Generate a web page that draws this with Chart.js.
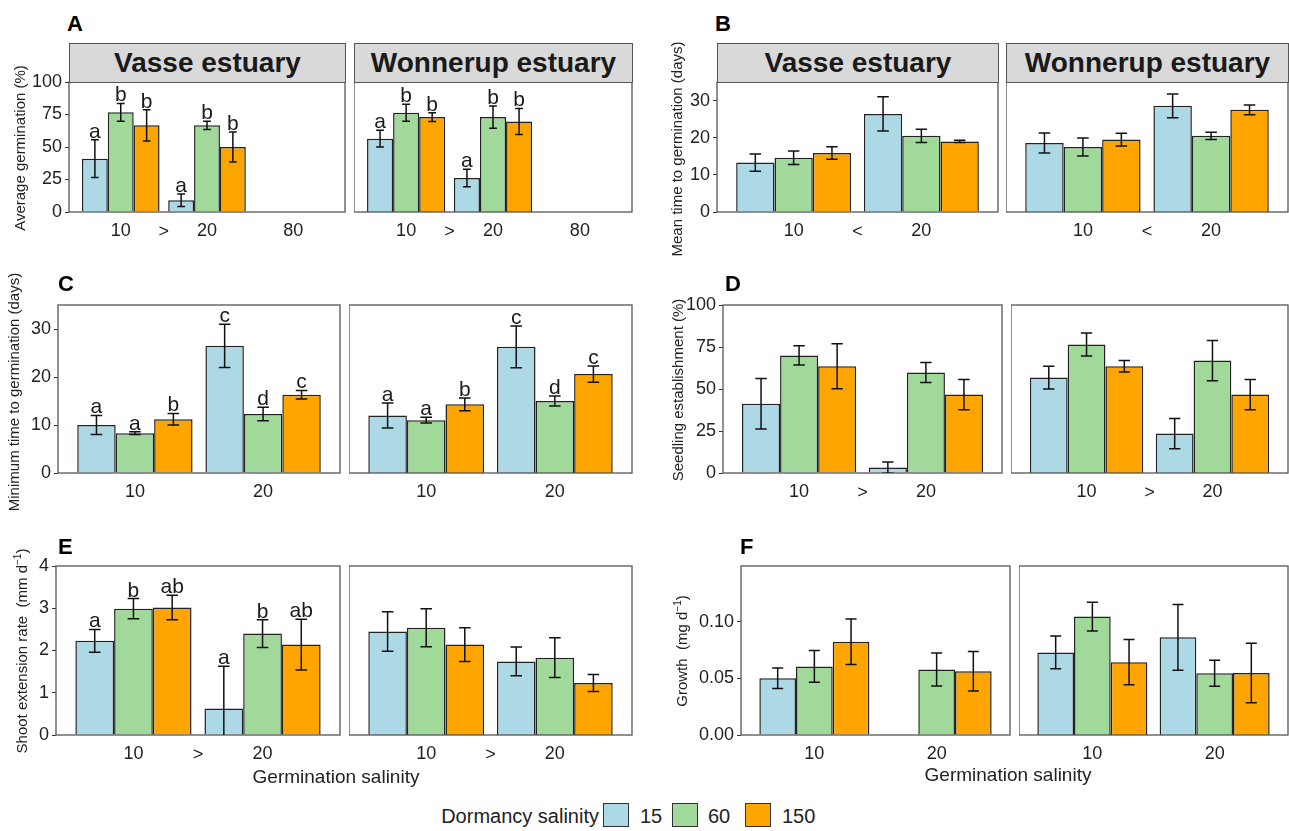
<!DOCTYPE html>
<html>
<head>
<meta charset="utf-8">
<script src="https://cdn.jsdelivr.net/npm/chart.js@4.4.1/dist/chart.umd.min.js"></script>
<style>
  body { margin: 0; background: #fff; width: 1289px; height: 831px; position: relative; overflow: hidden;
         font-family: "Liberation Sans", Arial, sans-serif; color: #1a1a1a; }
  canvas { position: absolute; }
  .strip { position: absolute; box-sizing: border-box; background: #d9d9d9; border: 1.3px solid #555;
           font-weight: bold; font-size: 28px; text-align: center; line-height: 37px; top: 43px; height: 40px; color: #1a1a1a; }
  .tag { position: absolute; font-weight: bold; font-size: 22px; line-height: 22px; color: #000; }
  .ytitle { position: absolute; font-size: 15px; white-space: nowrap; color: #222;
            transform: translate(-50%, -50%) rotate(-90deg); }
  .xtitle { position: absolute; font-size: 19px; white-space: nowrap; color: #222; transform: translate(-50%, -50%); }
  .lg { position: absolute; font-size: 20px; line-height: 20px; color: #222; white-space: nowrap; }
  .key { position: absolute; width: 26px; height: 24px; box-sizing: border-box; border: 1.5px solid #333; }
</style>
</head>
<body>
<script>
// dormancy salinity groups and germination salinity categories
const doses = ['15', '60', '150'];
const fills = ['#add8e6', '#a1d99b', '#ffa500'];
const salinityA = ['10', '20', '80'];
const salinity = ['10', '20'];

// A - average germination (%)   [dose][germination salinity]
const aTicks = [0, 25, 50, 75, 100];
const aVasseMean = [[41, 9], [76.7, 66.7], [66.7, 50]];
const aVasseSe = [[14.5, 4.8], [6.8, 3.2], [12, 11.5]];
const aVasseLetters = [['a', 'a'], ['b', 'b'], ['b', 'b']];
const aWonMean = [[56.4, 26.2], [76.4, 73], [73, 69.7]];
const aWonSe = [[6.4, 6.7], [6.5, 8.5], [3.3, 10]];
const aWonLetters = [['a', 'a'], ['b', 'b'], ['b', 'b']];

// B - mean time to germination (days)
const bTicks = [0, 10, 20, 30];
const bVasseMean = [[13.3, 26.4], [14.6, 20.5], [15.9, 19.0]];
const bVasseSe = [[2.3, 4.6], [1.8, 1.8], [1.7, 0.3]];
const bWonMean = [[18.6, 28.6], [17.5, 20.5], [19.5, 27.5]];
const bWonSe = [[2.7, 3.2], [2.4, 1.0], [1.7, 1.3]];

// C - minimum time to germination (days)
const cTicks = [0, 10, 20, 30];
const cVasseMean = [[10.0, 26.5], [8.3, 12.3], [11.2, 16.3]];
const cVasseSe = [[2, 4.5], [0.3, 1.4], [1.2, 0.9]];
const cVasseLetters = [['a', 'c'], ['a', 'd'], ['b', 'c']];
const cWonMean = [[12.0, 26.3], [11.0, 15.0], [14.3, 20.6]];
const cWonSe = [[2.6, 4.35], [0.6, 1.05], [1.35, 1.7]];
const cWonLetters = [['a', 'c'], ['a', 'd'], ['b', 'c']];

// D - seedling establishment (%)
const dTicks = [0, 25, 50, 75, 100];
const dVasseMean = [[41.2, 3.2], [70, 59.8], [63.5, 46.7]];
const dVasseSe = [[15, 3.3], [5.7, 6], [13.4, 9]];
const dWonMean = [[56.8, 23.5], [76.5, 66.9], [63.5, 46.7]];
const dWonSe = [[6.8, 9], [6.9, 12], [3.4, 9]];

// E - shoot extension rate (mm d-1)
const eTicks = [0, 1, 2, 3, 4];
const eVasseMean = [[2.23, 0.63], [2.99, 2.40], [3.02, 2.14]];
const eVasseSe = [[0.27, 1.0], [0.24, 0.33], [0.29, 0.6]];
const eVasseLetters = [['a', 'a'], ['b', 'b'], ['ab', 'ab']];
const eWonMean = [[2.45, 1.74], [2.54, 1.83], [2.14, 1.23]];
const eWonSe = [[0.47, 0.34], [0.45, 0.47], [0.4, 0.2]];

// F - growth (mg d-1)
const fTicks = [0, 0.05, 0.10];
const fVasseMean = [[0.050, null], [0.0604, 0.0577], [0.0822, 0.0562]];
const fVasseSe = [[0.009, null], [0.014, 0.0145], [0.02, 0.0175]];
const fWonMean = [[0.0728, 0.0861], [0.1044, 0.0544], [0.0642, 0.0547]];
const fWonSe = [[0.0144, 0.029], [0.0127, 0.0115], [0.02, 0.0263]];

Chart.defaults.font.family = '"Liberation Sans", Arial, sans-serif';

// facet layout: box = [left, top, right, bottom] of the panel area
const facets = [
  { cats: salinityA, mean: aVasseMean, se: aVasseSe, letters: aVasseLetters, ticks: aTicks, max: 100, sign: '>', box: [69, 82, 345, 212], yw: 45 },
  { cats: salinityA, mean: aWonMean, se: aWonSe, letters: aWonLetters, ticks: aTicks, max: 100, sign: '>', box: [354, 82, 632, 212] },
  { cats: salinity, mean: bVasseMean, se: bVasseSe, ticks: bTicks, max: 35, sign: '<', box: [717, 82, 998, 212], yw: 45 },
  { cats: salinity, mean: bWonMean, se: bWonSe, ticks: bTicks, max: 35, sign: '<', box: [1006, 82, 1288, 212] },
  { cats: salinity, mean: cVasseMean, se: cVasseSe, letters: cVasseLetters, ticks: cTicks, max: 35, box: [58, 305, 340, 473], yw: 45 },
  { cats: salinity, mean: cWonMean, se: cWonSe, letters: cWonLetters, ticks: cTicks, max: 35, box: [349, 305, 632, 473] },
  { cats: salinity, mean: dVasseMean, se: dVasseSe, ticks: dTicks, max: 100, sign: '>', box: [723, 305, 1002, 473], yw: 45 },
  { cats: salinity, mean: dWonMean, se: dWonSe, ticks: dTicks, max: 100, sign: '>', box: [1011, 305, 1288, 473] },
  { cats: salinity, mean: eVasseMean, se: eVasseSe, letters: eVasseLetters, ticks: eTicks, max: 4, sign: '>', box: [56, 566, 340, 735], yw: 40 },
  { cats: salinity, mean: eWonMean, se: eWonSe, ticks: eTicks, max: 4, sign: '>', box: [349, 566, 632, 735] },
  { cats: salinity, mean: fVasseMean, se: fVasseSe, ticks: fTicks, max: 0.149, dec: 2, box: [741, 566, 1010, 735], yw: 52 },
  { cats: salinity, mean: fWonMean, se: fWonSe, ticks: fTicks, max: 0.149, dec: 2, box: [1019, 566, 1288, 735] }
];

const TOP = 16, RIGHT = 2, XH = 36;

const facetPlugin = {
  id: 'facet',
  afterDatasetsDraw(chart, args, opts) {
    const { ctx, chartArea: a, scales: { x, y } } = chart;
    ctx.save();
    // panel border
    ctx.strokeStyle = '#555';
    ctx.lineWidth = 1.3;
    ctx.strokeRect(a.left, a.top, a.right - a.left, a.bottom - a.top);

    // error bars, clipped to panel bottom
    ctx.save();
    ctx.beginPath();
    ctx.rect(a.left, 0, a.right - a.left, a.bottom);
    ctx.clip();
    ctx.strokeStyle = '#111';
    ctx.lineWidth = 1.5;
    chart.data.datasets.forEach((ds, i) => {
      chart.getDatasetMeta(i).data.forEach((bar, j) => {
        const p = ds.data[j];
        const top = y.getPixelForValue(p.y + p.se);
        const bot = y.getPixelForValue(p.y - p.se);
        const cap = bar.width * 0.15;
        ctx.beginPath();
        ctx.moveTo(bar.x, top); ctx.lineTo(bar.x, bot);
        ctx.moveTo(bar.x - cap, top); ctx.lineTo(bar.x + cap, top);
        ctx.moveTo(bar.x - cap, bot); ctx.lineTo(bar.x + cap, bot);
        ctx.stroke();
      });
    });
    ctx.restore();

    // significance letters
    ctx.fillStyle = '#1a1a1a';
    ctx.font = '21px "Liberation Sans", Arial, sans-serif';
    ctx.textAlign = 'center';
    ctx.textBaseline = 'alphabetic';
    chart.data.datasets.forEach((ds, i) => {
      chart.getDatasetMeta(i).data.forEach((bar, j) => {
        const p = ds.data[j];
        if (p.letter) ctx.fillText(p.letter, bar.x, y.getPixelForValue(p.y + p.se) - 2);
      });
    });

    // comparison sign between germination salinities
    if (opts.sign) {
      ctx.fillStyle = '#222';
      ctx.font = '18px "Liberation Sans", Arial, sans-serif';
      ctx.textBaseline = 'middle';
      ctx.fillText(opts.sign, x.getPixelForValue(1.5), x.top + 20);
    }
    ctx.restore();
  }
};

facets.forEach(f => {
  const yw = f.yw || 0;
  const [x0, y0, x1, y1] = f.box;
  const cv = document.createElement('canvas');
  cv.width = x1 - x0 + yw + RIGHT;
  cv.height = y1 - y0 + TOP + XH;
  cv.style.left = (x0 - yw) + 'px';
  cv.style.top = (y0 - TOP) + 'px';
  document.body.appendChild(cv);

  const datasets = doses.map((d, s) => ({
    label: d,
    data: f.cats.map((c, k) => ({
      x: k + 1,
      y: f.mean[s][k],
      se: f.se[s][k],
      letter: f.letters ? f.letters[s][k] : ''
    })).filter(p => p.y !== null && p.y !== undefined),
    backgroundColor: fills[s],
    borderColor: '#222',
    borderWidth: 1.5,
    categoryPercentage: 0.9,
    barPercentage: 1
  }));

  new Chart(cv, {
    type: 'bar',
    data: { datasets },
    plugins: [facetPlugin],
    options: {
      responsive: false,
      animation: false,
      events: [],
      layout: { padding: { top: TOP, right: RIGHT, left: 0, bottom: 0 } },
      plugins: { legend: { display: false }, tooltip: { enabled: false }, facet: { sign: f.sign } },
      scales: {
        x: {
          type: 'linear', bounds: 'data', offset: false, min: 0.4, max: f.cats.length + 0.6,
          afterBuildTicks: s => { s.ticks = f.cats.map((c, k) => ({ value: k + 1 })); },
          afterFit: s => { s.height = XH; },
          grid: { display: false, offset: false }, border: { display: false },
          ticks: { callback: (v, k) => f.cats[k], font: { size: 18 }, color: '#222', padding: 0, maxRotation: 0, autoSkip: false }
        },
        y: {
          display: !!f.yw,
          type: 'linear', bounds: 'data', min: 0, max: f.max,
          afterBuildTicks: s => { s.ticks = f.ticks.map(v => ({ value: v })); },
          afterFit: s => { s.width = yw; },
          grid: { display: true, drawOnChartArea: false, drawTicks: true, tickLength: 4, color: '#333' },
          border: { display: false },
          ticks: { callback: v => f.dec ? v.toFixed(f.dec) : v, font: { size: 18 }, color: '#222', padding: 3 }
        }
      }
    }
  });
});

// strips, panel tags, axis titles, legend
const extra = `
  <div class="strip" style="left:69px;width:277px">Vasse estuary</div>
  <div class="strip" style="left:354px;width:279px">Wonnerup estuary</div>
  <div class="strip" style="left:717px;width:282px">Vasse estuary</div>
  <div class="strip" style="left:1006px;width:283px">Wonnerup estuary</div>
  <div class="tag" style="left:67px;top:13px">A</div>
  <div class="tag" style="left:715px;top:13px">B</div>
  <div class="tag" style="left:58px;top:273px">C</div>
  <div class="tag" style="left:725px;top:273px">D</div>
  <div class="tag" style="left:58px;top:536px">E</div>
  <div class="tag" style="left:740px;top:536px">F</div>
  <div class="ytitle" style="left:19px;top:148px">Average germination (%)</div>
  <div class="ytitle" style="left:676px;top:149px">Mean time to germination (days)</div>
  <div class="ytitle" style="left:13px;top:392px">Minimum time to germination (days)</div>
  <div class="ytitle" style="left:677px;top:390px">Seedling establishment (%)</div>
  <div class="ytitle" style="left:21px;top:651px">Shoot extension rate&nbsp; (mm d<sup style="font-size:10px">−1</sup>)</div>
  <div class="ytitle" style="left:681px;top:651px">Growth&nbsp; (mg d<sup style="font-size:10px">−1</sup>)</div>
  <div class="xtitle" style="left:336px;top:777px">Germination salinity</div>
  <div class="xtitle" style="left:1008px;top:775px">Germination salinity</div>
  <div class="lg" style="right:690px;top:806px">Dormancy salinity</div>
  <div class="key" style="left:603px;top:803px;background:${fills[0]}"></div>
  <div class="lg" style="left:640px;top:806px">${doses[0]}</div>
  <div class="key" style="left:672px;top:803px;background:${fills[1]}"></div>
  <div class="lg" style="left:708px;top:806px">${doses[1]}</div>
  <div class="key" style="left:745px;top:803px;background:${fills[2]}"></div>
  <div class="lg" style="left:782px;top:806px">${doses[2]}</div>
`;
document.body.insertAdjacentHTML('beforeend', extra);
</script>
</body>
</html>
